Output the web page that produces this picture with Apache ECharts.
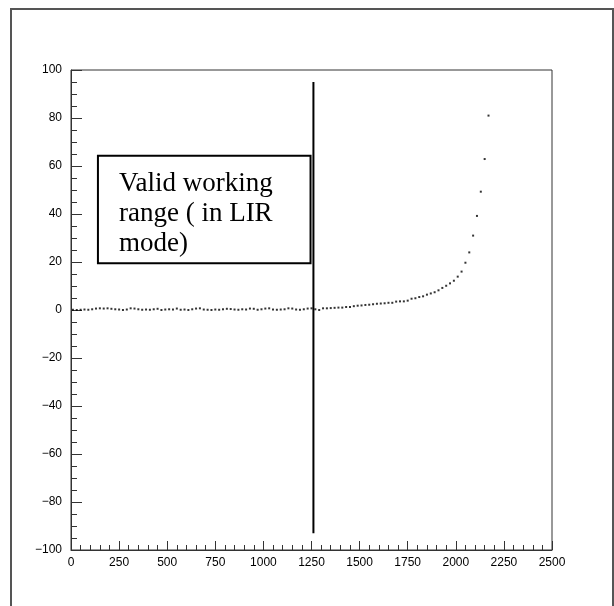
<!DOCTYPE html>
<html>
<head>
<meta charset="utf-8">
<script src="https://cdn.jsdelivr.net/npm/echarts@6/dist/echarts.min.js"></script>
<style>html,body{margin:0;padding:0;background:#fff;}#c{width:614px;height:606px;}</style>
</head>
<body>
<div id="c"></div>
<script>
var xValues = [10,30,50,70,90,110,130,150,170,190,210,230,250,270,290,310,330,350,370,390,
410,430,450,470,490,510,530,550,570,590,610,630,650,670,690,710,730,750,770,790,
810,830,850,870,890,910,930,950,970,990,1010,1030,1050,1070,1090,1110,1130,1150,1170,1190,
1210,1230,1250,1270,1290,1310,1330,1350,1370,1390,1410,1430,1450,1470,1490,1510,1530,1550,1570,1590,
1610,1630,1650,1670,1690,1710,1730,1750,1770,1790,1810,1830,1850,1870,1890,1910,1930,1950,1970,1990,
2010,2030,2050,2070,2090,2110,2130,2150,2170];
var yValues = [0.1,0.0,0.1,0.2,0.1,0.3,0.6,0.7,0.6,0.7,0.5,0.3,0.2,0.0,0.2,0.7,0.6,0.3,0.1,0.2,
0.1,0.3,0.5,0.0,0.2,0.3,0.2,0.6,0.1,0.2,0.0,0.3,0.6,0.7,0.2,0.1,0.0,0.2,0.1,0.3,
0.5,0.4,0.2,0.1,0.3,0.2,0.6,0.5,0.1,0.3,0.6,0.7,0.2,0.1,0.2,0.3,0.7,0.6,0.2,0.1,
0.3,0.6,0.7,0.3,0.0,0.7,0.7,0.8,0.9,1.0,1.0,1.25,1.25,1.6,1.8,1.9,2.1,2.2,2.4,2.6,
2.7,2.8,3.0,3.0,3.5,3.6,3.6,3.9,4.7,4.9,5.4,5.7,6.4,6.9,7.4,8.2,9.2,10.1,11.1,12.2,
13.9,16.0,19.7,24.0,31.0,39.2,49.3,62.9,81.0];
var cutX = 1260;
var cutY = [-93, 95];
var boxCorners = [[140, 64.3], [1245, 19.5]];
var boxText = 'Valid working\nrange ( in LIR\nmode)';

var pts = xValues.map(function (x, i) { return [x, yValues[i]]; });
var chart = echarts.init(document.getElementById('c'), null, {renderer: 'canvas'});
var lab = {color: '#000', fontFamily: 'Liberation Sans, Arial, sans-serif', fontSize: 12};
chart.setOption({
  animation: false,
  backgroundColor: '#fff',
  graphic: [{type: 'rect', shape: {x: 11, y: 9, width: 602, height: 620}, style: {fill: null, stroke: '#555', lineWidth: 2}, silent: true}],
  grid: {left: 71, right: 62, top: 70, bottom: 56, show: true, borderColor: '#333', borderWidth: 1, backgroundColor: 'transparent'},
  xAxis: {
    type: 'value', min: 0, max: 2500, interval: 250,
    axisLine: {show: true, onZero: false, lineStyle: {color: '#333', width: 1}},
    axisTick: {show: true, inside: true, length: 9, lineStyle: {color: '#333'}},
    minorTick: {show: true, splitNumber: 5, length: 5, lineStyle: {color: '#333'}},
    splitLine: {show: false},
    axisLabel: Object.assign({margin: 7, formatter: function (v) { return String(v); }}, lab)
  },
  yAxis: {
    type: 'value', min: -100, max: 100, interval: 20,
    axisLine: {show: true, onZero: false, lineStyle: {color: '#333', width: 1}},
    axisTick: {show: true, inside: true, length: 11, lineStyle: {color: '#333'}},
    minorTick: {show: true, splitNumber: 4, length: 6, lineStyle: {color: '#333'}},
    splitLine: {show: false},
    axisLabel: Object.assign({margin: 9, formatter: function (v) { return String(v).replace('-', '\u2212'); }}, lab)
  },
  series: [
    {
      type: 'scatter', data: pts, symbol: 'rect', symbolSize: 2,
      itemStyle: {color: '#000'}, silent: true,
      markArea: {
        silent: true,
        itemStyle: {color: '#fff', borderColor: '#000', borderWidth: 2},
        label: {show: true, position: 'insideTopLeft', distance: 0, padding: [14, 0, 0, 22],
          color: '#000', fontFamily: 'Liberation Serif, Times New Roman, serif', fontSize: 27, lineHeight: 30,
          formatter: boxText},
        data: [[{coord: boxCorners[0]}, {coord: boxCorners[1]}]]
      }
    },
    {
      type: 'line', data: [[cutX, cutY[0]], [cutX, cutY[1]]], symbol: 'none', silent: true,
      lineStyle: {color: '#000', width: 2}
    }
  ]
});
</script>
</body>
</html>
